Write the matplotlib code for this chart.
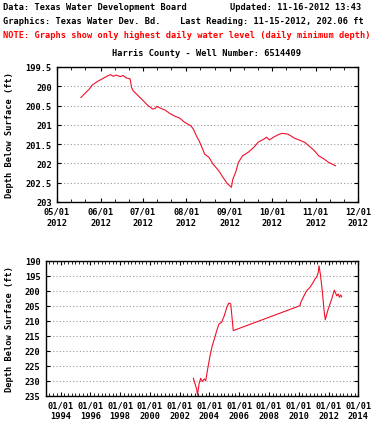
import numpy as np
import matplotlib
matplotlib.use("Agg")
import matplotlib.pyplot as plt
import matplotlib.dates as mdates
from matplotlib.ticker import MultipleLocator, FixedLocator

# recent record, May-Nov 2012
recent_dates = ["2012-05-18", "2012-05-21", "2012-05-24", "2012-05-26", "2012-05-30",
                "2012-06-02", "2012-06-06", "2012-06-08", "2012-06-10", "2012-06-12",
                "2012-06-15", "2012-06-17", "2012-06-19", "2012-06-22", "2012-06-23",
                "2012-06-24", "2012-06-27", "2012-07-01", "2012-07-04", "2012-07-08",
                "2012-07-10", "2012-07-11", "2012-07-13", "2012-07-17", "2012-07-20",
                "2012-07-24", "2012-07-27", "2012-07-31", "2012-08-04", "2012-08-06",
                "2012-08-08", "2012-08-10", "2012-08-12", "2012-08-14", "2012-08-17",
                "2012-08-20", "2012-08-24", "2012-08-27", "2012-08-30", "2012-09-02",
                "2012-09-03", "2012-09-05", "2012-09-07", "2012-09-10", "2012-09-14",
                "2012-09-18", "2012-09-21", "2012-09-25", "2012-09-27", "2012-09-29",
                "2012-10-02", "2012-10-05", "2012-10-08", "2012-10-12", "2012-10-14",
                "2012-10-17", "2012-10-20", "2012-10-24", "2012-10-27", "2012-10-31",
                "2012-11-03", "2012-11-07", "2012-11-10", "2012-11-15"]
recent_depth = [200.29, 200.18, 200.07, 199.97, 199.87,
                199.81, 199.73, 199.70, 199.74, 199.71,
                199.75, 199.72, 199.78, 199.81, 200.03,
                200.11, 200.22, 200.36, 200.48, 200.59,
                200.57, 200.52, 200.56, 200.62, 200.70,
                200.78, 200.82, 200.94, 201.02, 201.11,
                201.28, 201.41, 201.58, 201.76, 201.84,
                202.02, 202.19, 202.36, 202.52, 202.62,
                202.41, 202.23, 201.97, 201.80, 201.71,
                201.58, 201.45, 201.37, 201.32, 201.39,
                201.32, 201.26, 201.22, 201.24, 201.28,
                201.35, 201.39, 201.45, 201.54, 201.67,
                201.80, 201.89, 201.97, 202.06]

# full record, decimal years
hist_year = [2002.92, 2003.14, 2003.20, 2003.30, 2003.41, 2003.52, 2003.65, 2003.75,
             2003.88, 2004.04, 2004.19, 2004.33, 2004.49, 2004.64, 2004.82, 2005.00,
             2005.16, 2005.31, 2005.43, 2005.60, 2010.08, 2010.15, 2010.30, 2010.53,
             2010.75, 2010.97, 2011.09, 2011.20, 2011.31, 2011.36, 2011.45, 2011.58,
             2011.69, 2011.78, 2011.98, 2012.21, 2012.39, 2012.55, 2012.66, 2012.73,
             2012.82, 2012.88]
hist_depth = [229.2, 232.8, 234.8, 231.1, 229.2, 230.3, 229.4, 230.0,
              226.1, 221.7, 218.3, 216.1, 213.3, 211.1, 210.5, 208.3,
              205.6, 204.1, 204.4, 213.3, 205.0, 203.7, 202.2, 200.0,
              198.9, 197.2, 196.1, 195.5, 193.9, 191.7, 194.4, 200.0,
              206.1, 209.7, 206.1, 202.8, 199.8, 201.7, 201.1, 202.2,
              201.4, 202.06]

hist_ticks = list(range(1994, 2015, 2))
hist_labels = ["01/01\n%d" % y for y in hist_ticks]

W, H = 373, 427
fs = 6.2
fnt = dict(family="DejaVu Sans Mono", weight="bold", size=fs)
red = "#f0102a"

fig = plt.figure(figsize=(W / 100, H / 100), dpi=100)
fig.patch.set_facecolor("white")

def fy(px):
    return 1 - px / H

# header lines
fig.text(3 / W, fy(8), "Data: Texas Water Development Board", va="center", **fnt)
fig.text(230 / W, fy(8), "Updated: 11-16-2012 13:43", va="center", **fnt)
fig.text(3 / W, fy(21), "Graphics: Texas Water Dev. Bd.", va="center", **fnt)
fig.text(180 / W, fy(21), "Last Reading: 11-15-2012, 202.06 ft", va="center", **fnt)
fig.text(3 / W, fy(35), "NOTE: Graphs show only highest daily water level (daily minimum depth)",
         va="center", color="#ff0000", **fnt)
fig.text(206 / W, fy(53), "Harris County - Well Number: 6514409", va="center", ha="center", **fnt)


def style(ax):
    for s in ax.spines.values():
        s.set_linewidth(1.0)
        s.set_color("black")
    ax.tick_params(which="both", direction="in", top=True, right=True, color="black")
    ax.tick_params(which="major", length=3, width=0.8, pad=3.6)
    ax.tick_params(which="minor", length=2, width=0.6)
    ax.tick_params(axis="y", which="minor", left=False, right=False)
    ax.yaxis.grid(True, linestyle=(0, (1, 2)), color="#999999", linewidth=0.8)
    for lab in ax.get_xticklabels() + ax.get_yticklabels():
        lab.set_fontfamily("DejaVu Sans Mono")
        lab.set_fontweight("bold")
        lab.set_fontsize(fs)


# top chart: recent months
ax1 = fig.add_axes([57 / W, fy(203), 301 / W, 135 / H])
x1 = mdates.datestr2num(recent_dates)
ax1.plot(x1, recent_depth, color=red, lw=0.8)
ax1.set_xlim(mdates.datestr2num("2012-05-01"), mdates.datestr2num("2012-12-01"))
ax1.set_ylim(203, 199.5)
ax1.set_yticks(np.arange(199.5, 203.01, 0.5))
ax1.set_yticklabels(["%g" % v for v in np.arange(199.5, 203.01, 0.5)])
ax1.xaxis.set_major_locator(mdates.MonthLocator())
ax1.xaxis.set_minor_locator(mdates.DayLocator(bymonthday=[11, 21]))
ax1.xaxis.set_major_formatter(mdates.DateFormatter("%m/%d\n%Y"))
style(ax1)
fig.text(10 / W, fy(135.5), "Depth Below Surface (ft)", rotation=90, va="center", ha="center", **fnt)

# bottom chart: full record
ax2 = fig.add_axes([45.7 / W, fy(396.7), 312.6 / W, 135 / H])
ax2.plot(hist_year, hist_depth, color=red, lw=0.8)
ax2.set_xlim(1993, 2014)
ax2.set_ylim(235, 190)
ax2.set_yticks(np.arange(190, 236, 5))
ax2.set_xticks(hist_ticks)
ax2.set_xticklabels(hist_labels)
ax2.xaxis.set_minor_locator(MultipleLocator(0.25))
style(ax2)
fig.text(10 / W, fy(329), "Depth Below Surface (ft)", rotation=90, va="center", ha="center", **fnt)

for ax in (ax1, ax2):
    for lab in ax.get_xticklabels():
        lab.set_linespacing(1.25)

fig.savefig("out.png", dpi=100)
